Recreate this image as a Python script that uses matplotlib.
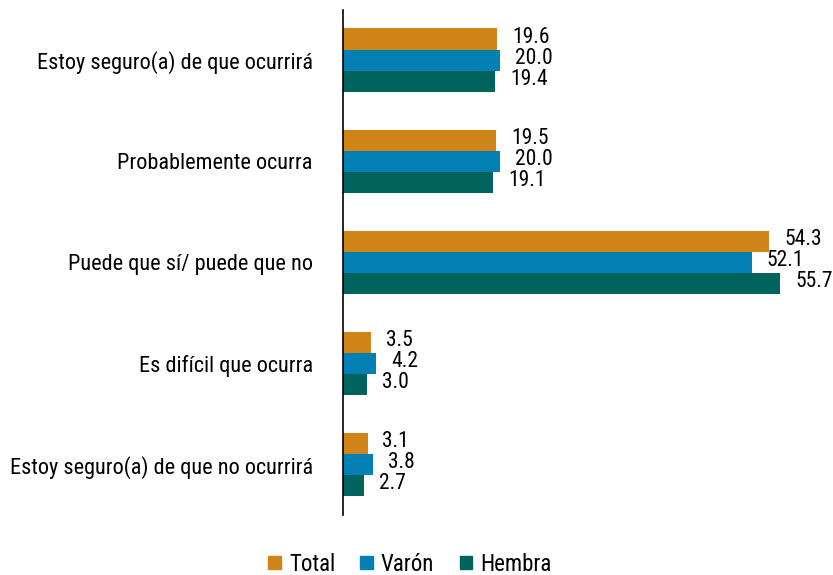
import matplotlib
matplotlib.use('Agg')
import matplotlib.pyplot as plt
from matplotlib import font_manager
from matplotlib.patches import Patch
import numpy as np

# pick a narrow font if there is one
fam = 'DejaVu Sans'
for name in ['Liberation Sans Narrow', 'Roboto Condensed', 'DejaVu Sans Condensed']:
    try:
        font_manager.findfont(name, fallback_to_default=False)
        fam = name
        break
    except Exception:
        pass
plt.rcParams['font.family'] = [fam, 'DejaVu Sans']

categories = ['Estoy seguro(a) de que ocurrirá', 'Probablemente ocurra',
              'Puede que sí/ puede que no', 'Es difícil que ocurra',
              'Estoy seguro(a) de que no ocurrirá']
total = [19.6, 19.5, 54.3, 3.5, 3.1]
varon = [20.0, 20.0, 52.1, 4.2, 3.8]
hembra = [19.4, 19.1, 55.7, 3.0, 2.7]
series_names = ['Total', 'Varón', 'Hembra']
colors = ['#D08316', '#0080B3', '#00635E']

fig = plt.figure(figsize=(8.33, 5.75), dpi=100)
ax = fig.add_axes([0.412, 0.104, 0.565, 0.879])

y = np.arange(len(categories))
h = 0.21
for i, (vals, c) in enumerate(zip([total, varon, hembra], colors)):
    pos = y + (i - 1) * h
    ax.barh(pos, vals, height=h, color=c)
    for p, v in zip(pos, vals):
        ax.text(v + 1.9, p - 0.02, f'{v:.1f}', va='center', ha='left', fontsize=15.5)

ax.set_ylim(len(categories) - 0.5, -0.5)
ax.set_xlim(0, 60)
ax.set_yticks(y)
ax.set_yticklabels(categories, fontsize=16)
ax.tick_params(axis='y', length=0, pad=22)
ax.set_xticks([])
for s in ['top', 'right', 'bottom']:
    ax.spines[s].set_visible(False)
ax.spines['left'].set_linewidth(1.2)

handles = [Patch(color=c, label=n) for c, n in zip(colors, series_names)]
fig.legend(handles=handles, loc='center', bbox_to_anchor=(0.492, 0.019),
           ncol=3, frameon=False, fontsize=16.5, handlelength=0.55, handleheight=0.55,
           handletextpad=0.35, columnspacing=1.1, borderpad=0)

fig.savefig('out.png', dpi=100)
